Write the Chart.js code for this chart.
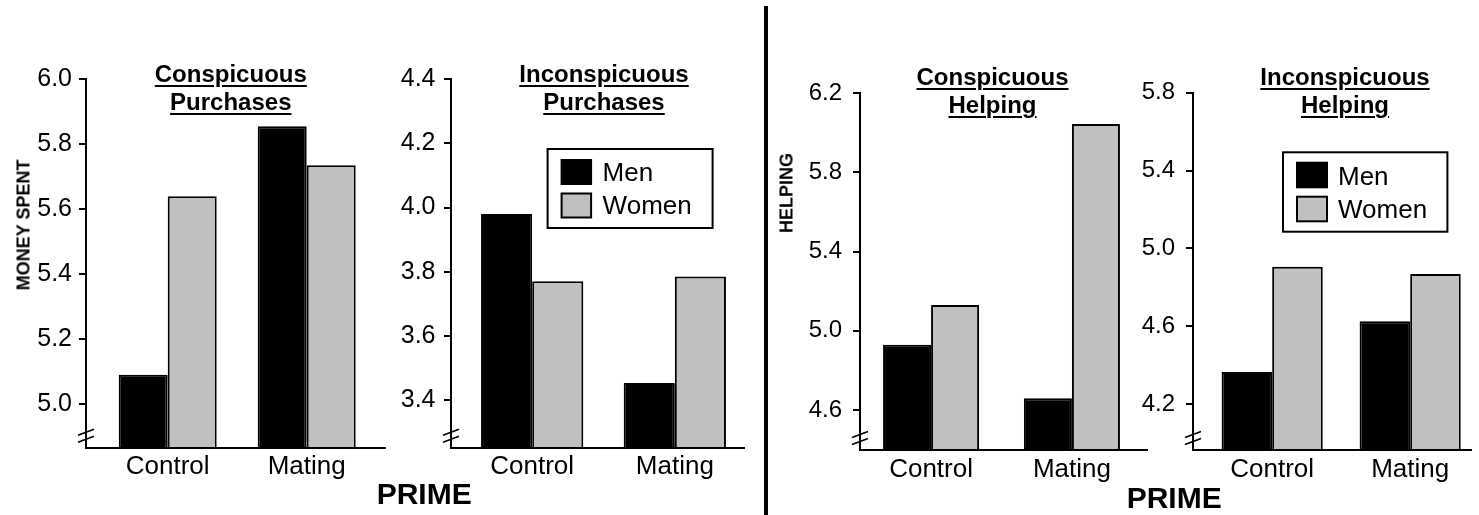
<!DOCTYPE html>
<html><head><meta charset="utf-8">
<script src="https://cdn.jsdelivr.net/npm/chart.js@4.4.1/dist/chart.umd.min.js"></script>
<style>
html,body{margin:0;padding:0;background:#fff;}
#wrap{position:relative;width:1479px;height:515px;overflow:hidden;font-family:"Liberation Sans",Arial,sans-serif;color:#000;background:#fff;}
canvas{position:absolute;top:0;}
.ttl{position:absolute;transform:translateX(-50%);font-weight:bold;font-size:24px;line-height:28px;text-align:center;white-space:nowrap;text-decoration:underline;text-decoration-thickness:2px;text-underline-offset:3px;}
.ytl{position:absolute;transform:translate(-50%,-50%) rotate(-90deg);font-weight:bold;font-size:18px;white-space:nowrap;}
.prime{position:absolute;font-weight:bold;font-size:30px;line-height:30px;white-space:nowrap;}
#divider{position:absolute;left:764px;top:6px;width:4px;height:509px;background:#000;}
</style></head><body>
<div id="wrap">
  <canvas id="c1" width="375" height="515" style="left:16px"></canvas>
  <canvas id="c2" width="369" height="515" style="left:380.7px"></canvas>
  <canvas id="c3" width="363" height="515" style="left:790px"></canvas>
  <canvas id="c4" width="354" height="515" style="left:1123.3px"></canvas>
  <div id="divider"></div>
  <div class="ttl" style="left:230.8px;top:60.4px">Conspicuous<br>Purchases</div>
  <div class="ttl" style="left:604px;top:60.4px">Inconspicuous<br>Purchases</div>
  <div class="ttl" style="left:992.5px;top:63.2px">Conspicuous<br>Helping</div>
  <div class="ttl" style="left:1345px;top:63.2px">Inconspicuous<br>Helping</div>
  <div class="ytl" style="left:24px;top:225px">MONEY SPENT</div>
  <div class="ytl" style="left:786.7px;top:193.3px">HELPING</div>
  <div class="prime" style="left:376.7px;top:479px">PRIME</div>
  <div class="prime" style="left:1126.7px;top:482.8px">PRIME</div>
</div>
<script>
const FONT = '"Liberation Sans", Arial, sans-serif';

const categories = ['Control', 'Mating'];
const seriesNames = ['Men', 'Women'];

const consPurchMen = [5.09, 5.855];
const consPurchWomen = [5.64, 5.735];
const inconsPurchMen = [3.98, 3.453];
const inconsPurchWomen = [3.77, 3.785];
const consHelpMen = [4.93, 4.66];
const consHelpWomen = [5.13, 6.045];
const inconsHelpMen = [4.365, 4.625];
const inconsHelpWomen = [4.905, 4.868];

const ticksConsPurch = [5.0, 5.2, 5.4, 5.6, 5.8, 6.0];
const ticksInconsPurch = [3.4, 3.6, 3.8, 4.0, 4.2, 4.4];
const ticksConsHelp = [4.6, 5.0, 5.4, 5.8, 6.2];
const ticksInconsHelp = [4.2, 4.6, 5.0, 5.4, 5.8];

const seriesColors = ['#000000', '#c0c0c0'];

const axisBreak = {
  id: 'axisBreak',
  afterDraw(chart) {
    const {ctx, chartArea} = chart;
    const x = chartArea.left, yc = chartArea.bottom - 12;
    ctx.save();
    ctx.strokeStyle = '#000';
    ctx.lineWidth = 1.5;
    [-3.5, 3.5].forEach(d => {
      ctx.beginPath();
      ctx.moveTo(x - 8, yc + d + 3);
      ctx.lineTo(x + 8, yc + d - 3);
      ctx.stroke();
    });
    ctx.restore();
  }
};

const boxLegend = {
  id: 'boxLegend',
  afterDraw(chart, args, opts) {
    if (!opts || !opts.show) return;
    const {ctx, chartArea} = chart;
    const bx = chartArea.left + opts.dx, by = chartArea.top + opts.dy;
    ctx.save();
    ctx.fillStyle = '#fff';
    ctx.fillRect(bx, by, opts.w, opts.h);
    ctx.strokeStyle = '#000';
    ctx.lineWidth = 2;
    ctx.strokeRect(bx, by, opts.w, opts.h);
    ctx.font = '26px ' + FONT;
    ctx.textBaseline = 'alphabetic';
    ctx.textAlign = 'left';
    chart.data.datasets.forEach((ds, i) => {
      const sy = by + opts.sy[i];
      ctx.fillStyle = ds.backgroundColor;
      ctx.fillRect(bx + opts.sx, sy, opts.sw, opts.sh);
      ctx.lineWidth = 2;
      ctx.strokeStyle = '#000';
      ctx.strokeRect(bx + opts.sx, sy, opts.sw, opts.sh);
      ctx.fillStyle = '#000';
      ctx.fillText(ds.label, bx + opts.tx, by + opts.ty[i]);
    });
    ctx.restore();
  }
};

function makePanel(id, men, women, yTicks, g) {
  const series = [men, women];
  new Chart(document.getElementById(id), {
    type: 'bar',
    data: {
      datasets: series.map((vals, s) => ({
        label: seriesNames[s],
        data: categories.map((c, i) => ({x: i, y: vals[i]})),
        backgroundColor: seriesColors[s],
        borderColor: '#000',
        borderWidth: 2,
        borderSkipped: 'start',
        categoryPercentage: g.cat,
        barPercentage: 1
      }))
    },
    options: {
      responsive: false,
      animation: false,
      devicePixelRatio: 1,
      layout: {padding: {top: g.top, right: g.padR, bottom: 0, left: 0}},
      plugins: {
        legend: {display: false},
        tooltip: {enabled: false},
        boxLegend: g.legend || {show: false}
      },
      scales: {
        x: {
          type: 'linear', min: g.xmin, max: g.xmax, offset: false, bounds: 'data',
          afterBuildTicks: s => { s.ticks = categories.map((c, i) => ({value: i})); },
          afterFit: s => { s.height = g.xh; },
          grid: {display: false, drawTicks: false, offset: false},
          border: {display: true, color: '#000', width: 2, z: 1},
          ticks: {color: '#000', font: {family: FONT, size: 26}, padding: g.xpad, maxRotation: 0, autoSkip: false,
                  callback: v => categories[v] !== undefined ? categories[v] : ''}
        },
        y: {
          type: 'linear', min: g.ymin, max: g.ymax,
          afterBuildTicks: s => { s.ticks = yTicks.map(v => ({value: v})); },
          afterFit: s => { s.width = 70; },
          grid: {display: true, drawOnChartArea: false, drawTicks: true, tickLength: 7, color: '#000', lineWidth: 2},
          border: {display: true, color: '#000', width: 2, z: 1},
          ticks: {color: '#000', font: {family: FONT, size: g.yfs}, padding: g.ypad, callback: v => v.toFixed(1)}
        }
      }
    },
    plugins: [axisBreak, boxLegend]
  });
}

const legendGeo = {show: true, dx: 96.6, dy: 69.7, w: 165, h: 79, sx: 14, sy: [11, 44.5], sw: 29.5, sh: 24, tx: 55, ty: [32, 65]};

makePanel('c1', consPurchMen, consPurchWomen, ticksConsPurch,
  {top: 79.3, padR: 6, xh: 515 - 447.7, xmin: -0.5878, xmax: 1.5633, cat: 0.705, ymin: 4.865, ymax: 6.0, xpad: 4, ypad: 7, yfs: 25});
makePanel('c2', inconsPurchMen, inconsPurchWomen, ticksInconsPurch,
  {top: 79.3, padR: 6, xh: 515 - 447.7, xmin: -0.5692, xmax: 1.4849, cat: 0.717, ymin: 3.251, ymax: 4.4, xpad: 4, ypad: 8.5, yfs: 25, legend: legendGeo});
makePanel('c3', consHelpMen, consHelpWomen, ticksConsHelp,
  {top: 93.3, padR: 6, xh: 515 - 450, xmin: -0.5046, xmax: 1.533, cat: 0.682, ymin: 4.398, ymax: 6.2, xpad: 4, ypad: 11, yfs: 24});
makePanel('c4', inconsHelpMen, inconsHelpWomen, ticksInconsHelp,
  {top: 92.7, padR: 6, xh: 515 - 450, xmin: -0.5737, xmax: 1.4408, cat: 0.733, ymin: 3.964, ymax: 5.8, xpad: 4, ypad: 11, yfs: 24,
   legend: {show: true, dx: 90, dy: 59.6, w: 164.4, h: 79.4, sx: 14, sy: [10.4, 44.4], sw: 30, sh: 24.6, tx: 55, ty: [32.5, 66]}});
</script>
</body></html>
